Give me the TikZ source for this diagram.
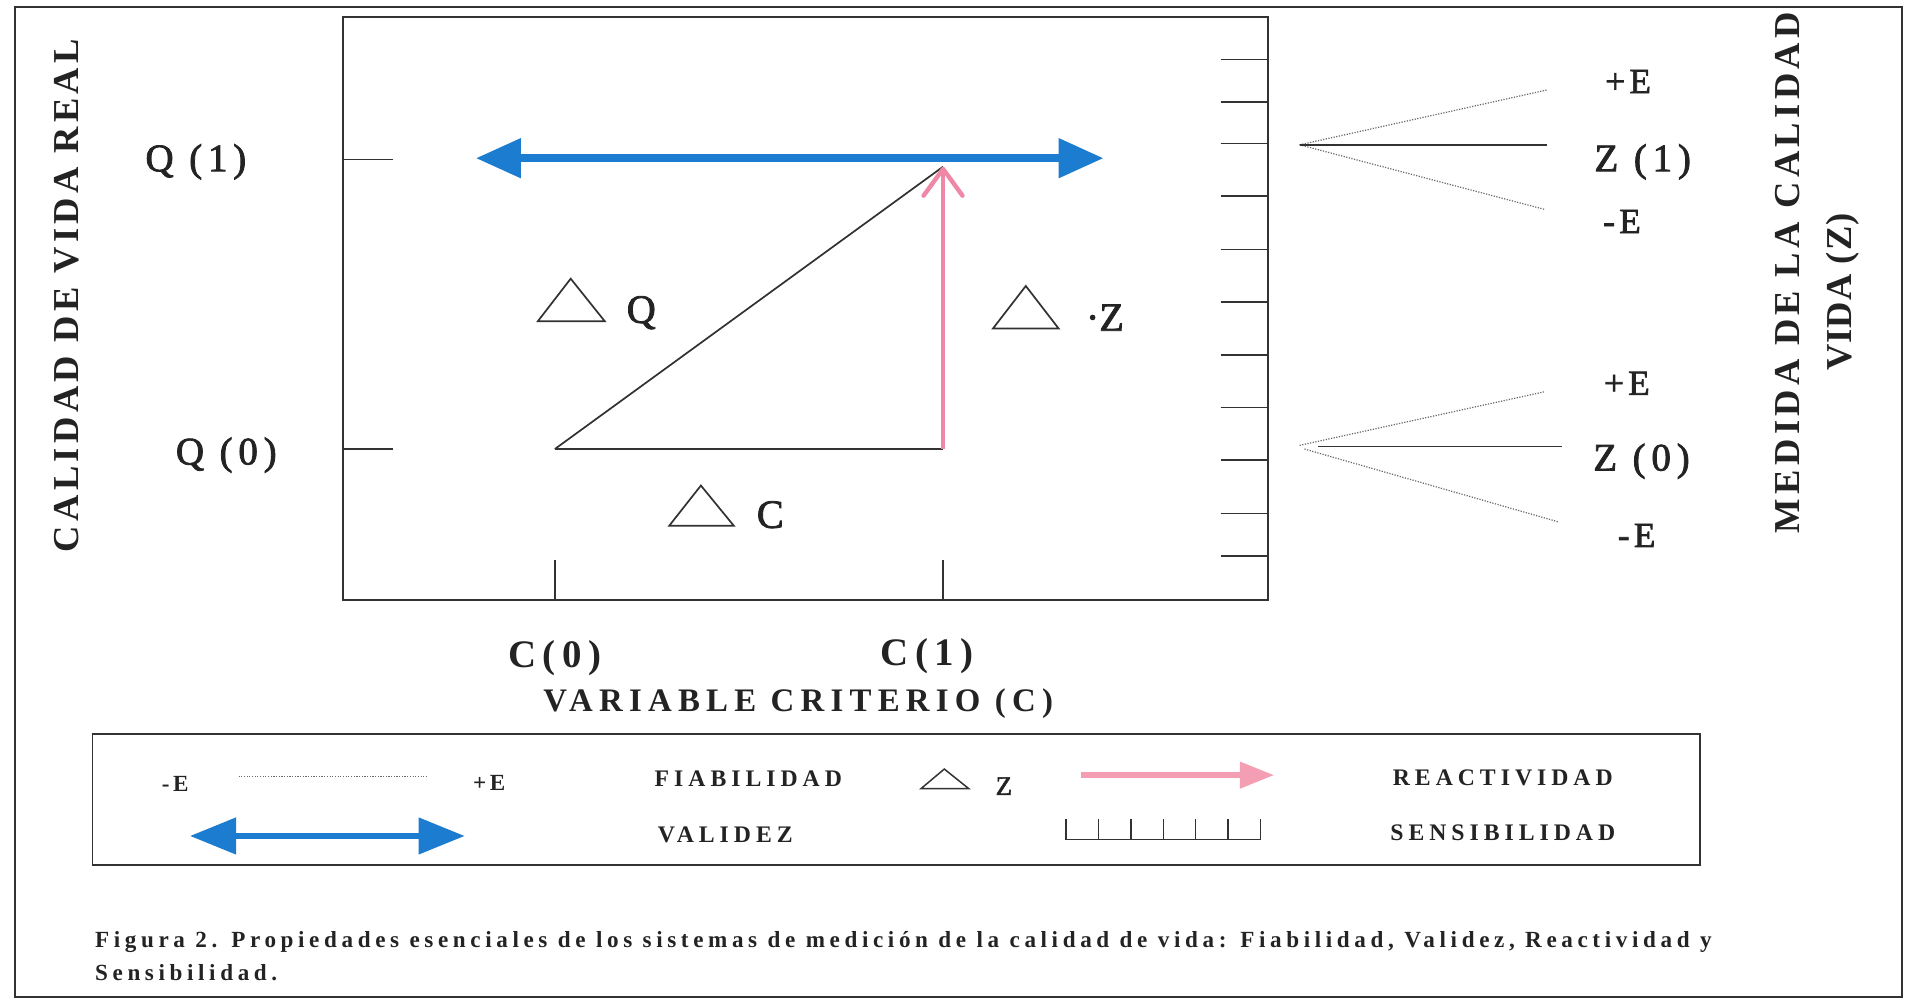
\documentclass[tikz,border=0pt]{standalone}
\usepackage{fontspec}
\setmainfont{Liberation Serif}
\usetikzlibrary{arrows.meta}
\definecolor{ink}{RGB}{35,35,35}
\definecolor{linec}{RGB}{50,50,50}
\definecolor{vblue}{RGB}{28,124,207}
\definecolor{rpink}{RGB}{238,136,166}
\definecolor{lpink}{RGB}{244,158,180}
\definecolor{dotc}{RGB}{105,105,105}
\newcommand\tfs[2]{\fontsize{#1}{#1}\selectfont\addfontfeature{LetterSpace=#2}}
\newcommand\tfb[2]{\fontsize{#1}{#1}\selectfont\bfseries\addfontfeature{LetterSpace=#2}}
\newcommand\tff[2]{\fontsize{#1}{#1}\selectfont\addfontfeature{LetterSpace=#2,FakeBold=2}}
\begin{document}
\begin{tikzpicture}[x=1pt,y=-1pt,
  frame/.style={draw=linec,line width=1.5pt},
  tickl/.style={draw=linec,line width=1.4pt},
  solidl/.style={draw=linec,line width=1.4pt},
  dotl/.style={draw=dotc,line width=1pt,dash pattern=on 1pt off 1.2pt},
  deltri/.style={draw=linec,line width=1.4pt,line join=miter},
  lbl/.style={inner sep=0pt,text=ink},
  big/.style={lbl,font={\tff{32}{15}}},
  dlt/.style={lbl,font={\tff{33}{0}}},
  elab/.style={lbl,font={\tff{29}{12}}},
  cax/.style={lbl,font={\tfb{32}{17}}},
  axt/.style={lbl,font={\tfb{27}{19}}},
  vert/.style={lbl,rotate=90,font={\tfb{30}{12}}},
  leg/.style={lbl,font={\tfb{19.5}{21}}},
  lege/.style={lbl,font={\tfb{19}{15}}},
  capt/.style={lbl,anchor=base west,font={\tfb{19}{20}}},
  bluearr/.style={draw=vblue,line width=7pt,{Triangle[length=37pt,width=31pt]}-{Triangle[length=37pt,width=31pt]}},
]
\useasboundingbox[fill=white] (0,0) rectangle (1568,822);
% outer frame
\draw[frame] (12,6) rectangle (1563,819);
% plot box
\draw[frame] (282,14) rectangle (1042,493);
% left ticks
\draw[tickl] (282,131) -- (323,131);
\draw[tickl] (282,369) -- (323,369);
% bottom ticks
\draw[tickl] (456,460) -- (456,493);
\draw[tickl] (775,460) -- (775,493);
% right ticks
\foreach \yy in {49,84,118,161,205,248,292,335,378,422,457}
  \draw[tickl] (1003,\yy) -- (1042,\yy);

% coordinates of the graph
\coordinate (A) at (456,369);
\coordinate (B) at (775,369);
\coordinate (T) at (775,137);
\coordinate (BL) at (391,130);
\coordinate (BR) at (907,130);

% triangle
\draw[solidl] (A) -- (B);
\draw[solidl] (A) -- (T);
% pink arrow
\draw[draw=rpink,line width=3.6pt,-{Straight Barb[length=22pt,width=32pt,round]}] (B) -- (T);
% blue arrow
\draw[bluearr] (BL) -- (BR);

% delta triangles
\draw[deltri] (442,264) -- (497,264) -- (469,229) -- cycle;
\draw[deltri] (550,432) -- (603,432) -- (576,399) -- cycle;
\draw[deltri] (816,270) -- (870,270) -- (843,235) -- cycle;

% labels
\node[big] (q1) at (161,133) {Q (1)};
\node[big] (q0) at (186,374) {Q (0)};
\node[dlt] (dq) at (527,257) {Q};
\node[dlt] (dc) at (633,423) {C};
\node[dlt] (dz) at (908,261) {·Z};
\node[cax] (c0) at (456,541) {C(0)};
\node[cax] (c1) at (762,539) {C(1)};
\node[axt] (var) at (656,578) {VARIABLE CRITERIO (C)};
\node[vert] (yl) at (55,243) {CALIDAD DE VIDA REAL};
\node[vert] (yr1) at (1469,224) {MEDIDA DE LA CALIDAD};
\node[vert,font={\tfb{30}{3}}] (yr2) at (1514,240) {VIDA (Z)};

% right fans
\coordinate (F1) at (1068,119);
\coordinate (F1u) at (1271,74);
\coordinate (F1m) at (1271,119);
\coordinate (F1d) at (1269,172);
\draw[dotl] (F1) -- (F1u);
\draw[dotl] (F1) -- (F1d);
\draw[solidl] (F1) -- (F1m);
\coordinate (F0) at (1068,366);
\coordinate (F0s) at (1083,367);
\coordinate (F0u) at (1269,322);
\coordinate (F0m) at (1284,367);
\coordinate (F0a) at (1072,369);
\coordinate (F0d) at (1281,429);
\draw[dotl] (F0) -- (F0u);
\draw[dotl] (F0a) -- (F0d);
\draw[solidl] (F0s) -- (F0m);

\node[elab] (pe1) at (1338,67) {+E};
\node[big] (z1) at (1350,133) {Z (1)};
\node[elab] (me1) at (1333,182) {-E};
\node[elab] (pe0) at (1337,315) {+E};
\node[big] (z0) at (1349,379) {Z (0)};
\node[elab] (me0) at (1345,440) {-E};

% legend box
\draw[frame] (76,603) rectangle (1397,711);
\node[lege] (lme) at (144,644) {-E};
\node[lege] (lpe) at (402,643) {+E};
\coordinate (LD1) at (196,638);
\coordinate (LD2) at (352,638);
\draw[dotl] (LD1) -- (LD2);
\node[leg] (fiab) at (615,640) {FIABILIDAD};
\draw[deltri,line width=1.2pt] (757,648) -- (796,648) -- (776,632) -- cycle;
\node[lbl,font={\tff{22}{0}}] (lz) at (825,646) {Z};
\coordinate (LP1) at (888,637);
\coordinate (LP2) at (1047,637);
\draw[draw=lpink,line width=4.5pt,-{Triangle[length=28pt,width=21pt]}] (LP1) -- (LP2);
\node[leg] (react) at (1235,639) {REACTIVIDAD};
\coordinate (LB1) at (156,687);
\coordinate (LB2) at (382,687);
\draw[draw=vblue,line width=5.5pt,{Triangle[length=38pt,width=29pt]}-{Triangle[length=38pt,width=29pt]}] (LB1) -- (LB2);
\node[leg] (valid) at (596,686) {VALIDEZ};
\draw[tickl,line width=1.2pt] (876,690) -- (1036,690);
\foreach \i in {0,...,6}
  \draw[tickl,line width=1.2pt] ({876+\i*160/6},673) -- ({876+\i*160/6},690);
\node[leg] (sens) at (1235,684) {SENSIBILIDAD};

% caption
\node[capt] (cap1) at (78,779) {Figura 2. Propiedades esenciales de los sistemas de medición de la calidad de vida: Fiabilidad, Validez, Reactividad y};
\node[capt] (cap2) at (78,806) {Sensibilidad.};
\end{tikzpicture}
\end{document}
